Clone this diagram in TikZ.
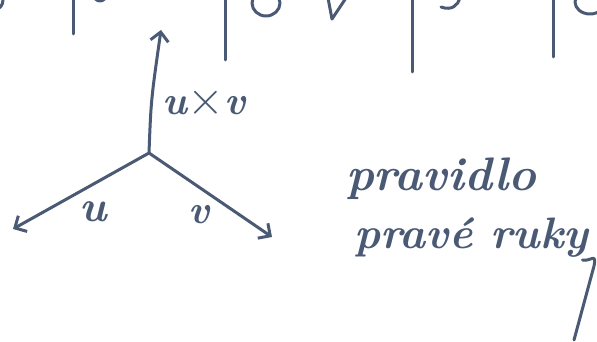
\documentclass[tikz,border=0pt]{standalone}
\usetikzlibrary{arrows.meta}
\definecolor{ink}{RGB}{74,90,116}
\begin{document}
\begin{tikzpicture}[x=1pt,y=-1pt,
  pen/.style={draw=ink,line width=3pt,line cap=round,line join=round},
  vec/.style={pen,-{Straight Barb[length=9pt,width=18pt,line width=3pt]}},
  hand/.style={text=ink,inner sep=0pt}]
\useasboundingbox[fill=white] (0,0) rectangle (597,342);
% cut-off fragments along the top edge
\draw[pen] (73,0) -- (73,34);
\draw[pen] (225,0) -- (225,60);
\draw[pen] (412,0) -- (412,72);
\draw[pen] (553,0) -- (553,57);
\begin{scope}
\clip (0,0) rectangle (597,342);
\draw[pen] (-4,0) circle[x radius=7pt,y radius=9pt];
\draw[pen] (100,-5) circle[radius=6pt];
\draw[pen] (266,3) circle[x radius=14pt,y radius=13pt];
\draw[pen] (328,-2) -- (332,19) -- (346,-2);
\draw[pen] (441,7) .. controls (452,11) and (458,5) .. (460,-2);
\draw[pen] (590,2) circle[x radius=15pt,y radius=12pt];
\end{scope}
% vectors
\coordinate (O) at (149,153);
\coordinate (Z) at (161,30);
\coordinate (U) at (13,229);
\coordinate (V) at (272,237);
\draw[vec] (O) .. controls (151,100) .. (Z);
\draw[vec] (O) -- (U);
\draw[vec] (O) -- (V);
\node[hand,font=\fontsize{40}{42}\selectfont\bfseries\itshape] (luv) at (204,103) {u\scalebox{1.9}{$\times$}v};
\node[hand,font=\fontsize{44}{46}\selectfont\bfseries\itshape] (lu) at (93,212) {u};
\node[hand,font=\fontsize{40}{42}\selectfont\bfseries\itshape] (lv) at (199,215) {v};
% rule text
\node[hand,anchor=base west,font=\fontsize{47}{49}\selectfont\bfseries\itshape] (t1) at (346,190) {pravidlo};
\node[hand,anchor=base west,font=\fontsize{44}{46}\selectfont\bfseries\itshape] (t2) at (354,248) {prav\'e ruky};
\coordinate (tail) at (574,340);
\draw[pen] (t2.base east) ++(-6,12) coordinate (ty) .. controls (590,262) and (597,252) .. (594,266) -- (tail);
\end{tikzpicture}
\end{document}
